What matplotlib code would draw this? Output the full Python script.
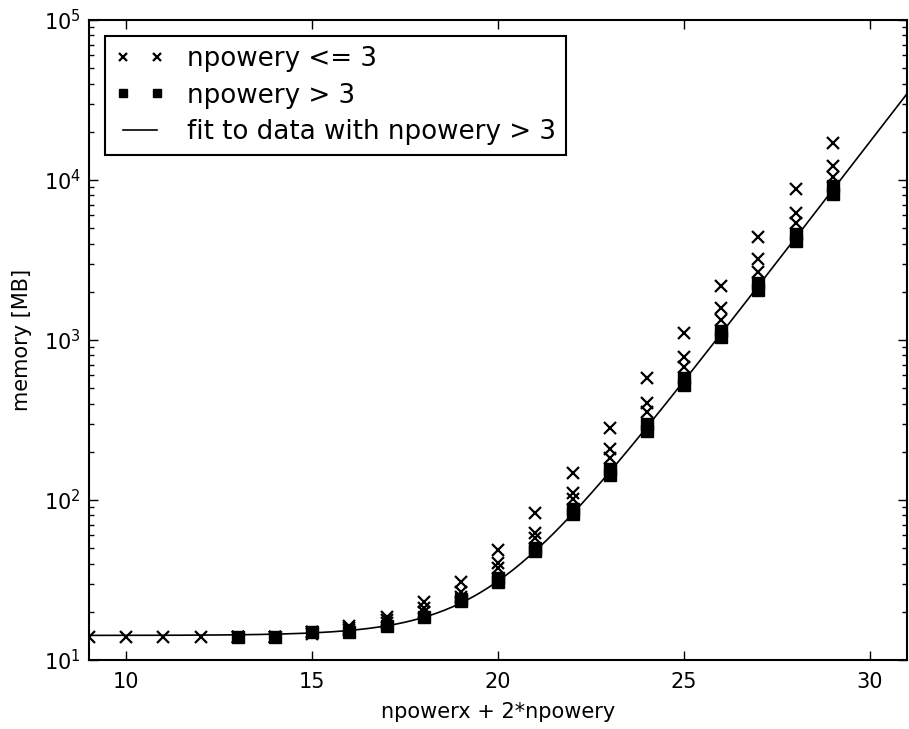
"""Memory use against problem size, with an exponential fit
"""
import matplotlib
matplotlib.use("Agg")
import matplotlib.pyplot as plt
import numpy as np

# runs with npowery <= 3
small_n = [9, 10, 11, 12,
           13, 13, 13, 14, 14, 14, 15, 15, 15, 16, 16, 16,
           17, 17, 17, 18, 18, 18, 19, 19, 19, 20, 20, 20,
           21, 21, 21, 22, 22, 22, 23, 23, 23, 24, 24, 24,
           25, 25, 25, 26, 26, 26, 27, 27, 27, 28, 28, 28,
           29, 29, 29]
small_mem = [13.9, 13.9, 13.9, 13.9,
             13.9, 13.9, 13.9, 13.9, 13.9, 13.9, 15.0, 15.0, 14.6,
             16.3, 15.8, 15.3, 18.6, 17.8, 17.0, 23.0, 21.1, 19.8,
             30.7, 26.6, 24.8, 48.7, 40.4, 37.6, 83, 62, 58,
             147, 111, 101, 282, 208, 183, 579, 404, 355,
             1106, 783, 677, 2175, 1585, 1334, 4400, 3210, 2660,
             8790, 6220, 5390, 17000, 12200, 10400]

# runs with npowery > 3
large_n = [13, 14, 15, 16, 17, 18, 19, 19, 20, 20, 21, 21, 22, 22,
           23, 23, 24, 24, 25, 25, 26, 26, 27, 27, 28, 28, 29, 29]
large_mem = [13.9, 13.9, 15.0, 15.0, 16.3, 18.6, 24.0, 23.4, 32.5, 30.7,
             50.1, 48.0, 88, 81.7, 156, 143, 298, 270, 579, 523,
             1137, 1044, 2271, 2054, 4597, 4158, 9173, 8175]

# fit mem = a + b * 2**n, weighted by 1/mem so the flat part counts too
xl = np.array(large_n, dtype=float)
yl = np.array(large_mem, dtype=float)
A = np.column_stack([1.0 / yl, 2.0 ** xl / yl])
(a, b), *_ = np.linalg.lstsq(A, np.ones_like(yl), rcond=None)
nfit = np.linspace(9, 31, 300)
memfit = a + b * 2.0 ** nfit

plt.rcParams["font.family"] = "DejaVu Sans"
plt.rcParams["font.size"] = 15
plt.rcParams["xtick.direction"] = "in"
plt.rcParams["ytick.direction"] = "in"
plt.rcParams["xtick.top"] = True
plt.rcParams["ytick.right"] = True

fig = plt.figure(figsize=(9.09, 7.29), dpi=100)
ax = fig.add_axes([0.098, 0.0947, 0.9, 0.8779])

ax.semilogy(small_n, small_mem, "x", color="k", ms=8.5, mew=1.6,
            label="npowery <= 3")
ax.semilogy(large_n, large_mem, "s", color="k", ms=8.5, mec="k",
            label="npowery > 3")
ax.semilogy(nfit, memfit, "-", color="k", lw=1.2,
            label="fit to data with npowery > 3")

ax.set_xlim(9, 31)
ax.set_ylim(10, 1e5)
ax.set_xticks([10, 15, 20, 25, 30])
ax.set_xlabel("npowerx + 2*npowery", labelpad=7)
ax.set_ylabel("memory [MB]", labelpad=8.5)

for s in ax.spines.values():
    s.set_linewidth(1.5)
ax.tick_params(which="major", length=6.5, width=1)
ax.tick_params(which="minor", length=3.5, width=1)
ax.tick_params(axis="x", which="major", pad=9)
ax.tick_params(axis="y", which="major", pad=6)

leg = ax.legend(loc="upper left", numpoints=2, fontsize=18.8,
                handlelength=1.9, markerscale=0.65, fancybox=False,
                framealpha=1, edgecolor="k", borderpad=0.4,
                labelspacing=0.4, handletextpad=0.85, borderaxespad=0.6)
leg.get_frame().set_linewidth(1.5)

fig.savefig("out.png", dpi=100)
